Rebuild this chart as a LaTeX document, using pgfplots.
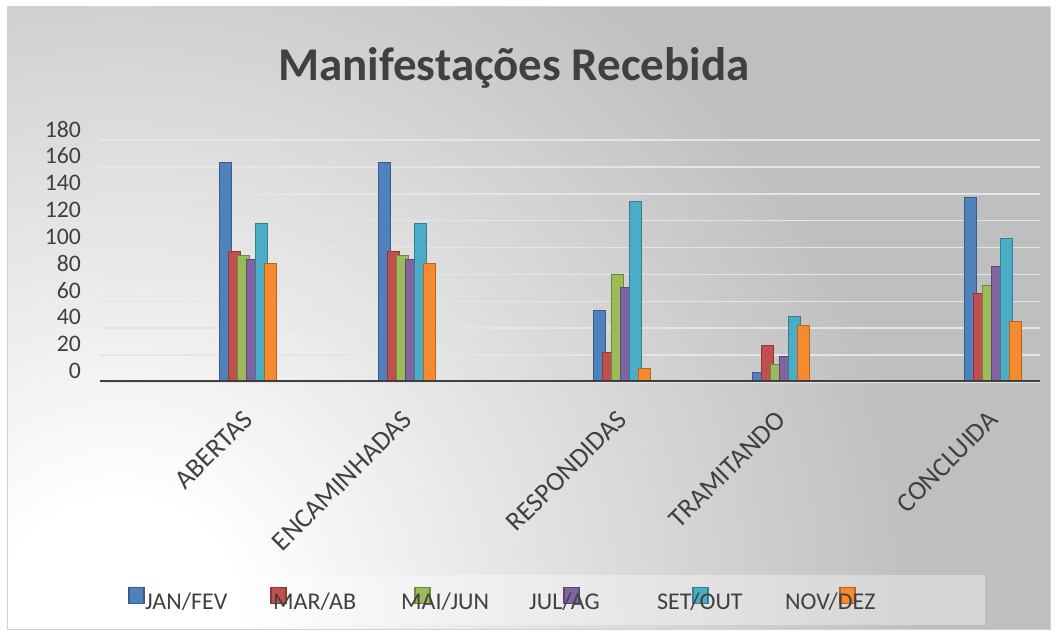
\documentclass[border=0pt]{standalone}
\usepackage{pgfplots}
\pgfplotsset{compat=1.18}
\usepackage{pgfplotstable}
\usepackage{fontspec}
\setmainfont{Carlito}
\definecolor{txt}{HTML}{404040}
\definecolor{bggray}{HTML}{BFBFBF}
\definecolor{cJAN}{HTML}{4F81BD}\definecolor{dJAN}{HTML}{385D8A}
\definecolor{cMAR}{HTML}{C0504D}\definecolor{dMAR}{HTML}{8C3836}
\definecolor{cMAI}{HTML}{9BBB59}\definecolor{dMAI}{HTML}{71893F}
\definecolor{cJUL}{HTML}{8064A2}\definecolor{dJUL}{HTML}{5C4776}
\definecolor{cSET}{HTML}{4BACC6}\definecolor{dSET}{HTML}{357D91}
\definecolor{cNOV}{HTML}{F68A2E}\definecolor{dNOV}{HTML}{B8651F}
\pgfdeclareradialshading{bgshade}{\pgfpoint{0bp}{0bp}}{color(0bp)=(white); color(3bp)=(white); color(20bp)=(bggray); color(50bp)=(bggray)}
\pgfplotsset{lgimg/.style n args={3}{legend image code/.code={\path[draw=none,fill=none] (0pt,-2pt) rectangle (0pt,14pt); \draw[draw=#1, fill=#2, line width=1.5pt, overlay] (#3,-2pt) rectangle ++(15pt,16pt);}}}
\pgfplotstableread{
x jan mar mai jul set nov
247.5 163 97 94 91 118 88
407 163 97 94 91 118 88
621.5 53 22 80 70 134 10
780.5 7 27 13 19 49 42
993 137 66 72 86 107 45
}\datatable
\begin{document}
\begin{tikzpicture}[x=1pt,y=1pt]
\useasboundingbox (0,0) rectangle (1063,637);
\fill[white] (0,0) rectangle (1063,637);
\begin{scope}
\clip (7,7) rectangle (1050,630);
\fill[bggray] (7,7) rectangle (1050,630);
\shade[shading=bgshade] (120,17) circle (1000pt);
\end{scope}
\draw[gray!35, line width=1pt] (7,7) rectangle (1050,630);
\fill[white, opacity=0.35] (100,12) rectangle (985,62);
\node[anchor=base, font=\fontsize{47}{50}\selectfont\bfseries, text=txt] at (514,556) {Manifestações Recebida};
\begin{axis}[
 at={(100pt,255pt)}, anchor=south west,
 scale only axis, width=940pt, height=242pt,
 xmin=100, xmax=1040, ymin=0, ymax=180,
 ybar=-3pt, bar width=12pt,
 xtick={247.5,407,621.5,780.5,993},
 xticklabels={ABERTAS,ENCAMINHADAS,RESPONDIDAS,TRAMITANDO,CONCLUIDA},
 ytick={0,20,...,180},
 major tick length=0pt,
 axis line style={draw=none},
 ymajorgrids, grid style={line width=1.5pt, color=gray!20},
 tick label style={text=txt},
 xticklabel style={font=\fontsize{27}{30}\selectfont, xshift=-6pt, yshift=-27pt, rotate=45, anchor=north east, inner sep=0pt},
 yticklabel style={font=\fontsize{23.7}{26}\selectfont, anchor=east, inner sep=0pt, xshift=-19pt, yshift=11pt},
 /pgf/number format/assume math mode=true,
 legend columns=6,
 legend cell align=left,
 legend style={at={(axis description cs:0.0479,-0.897)}, anchor=west, draw=none, fill=none, inner sep=0pt,
   /tikz/column sep=0pt, /tikz/row sep=0pt,
   nodes={inner sep=0pt, text width=128pt, align=left, text=txt, font=\fontsize{24}{26}\selectfont}},
]
\addplot[draw=dJAN, fill=cJAN, line width=1pt, lgimg={dJAN}{cJAN}{-16pt}] table[x=x,y=jan]{\datatable};
\addplot[draw=dMAR, fill=cMAR, line width=1pt, lgimg={dMAR}{cMAR}{-2pt}] table[x=x,y=mar]{\datatable};
\addplot[draw=dMAI, fill=cMAI, line width=1pt, lgimg={dMAI}{cMAI}{14pt}] table[x=x,y=mai]{\datatable};
\addplot[draw=dJUL, fill=cJUL, line width=1pt, lgimg={dJUL}{cJUL}{35pt}] table[x=x,y=jul]{\datatable};
\addplot[draw=dSET, fill=cSET, line width=1pt, lgimg={dSET}{cSET}{36pt}] table[x=x,y=set]{\datatable};
\addplot[draw=dNOV, fill=cNOV, line width=1pt, lgimg={dNOV}{cNOV}{55pt}] table[x=x,y=nov]{\datatable};
\legend{JAN/FEV,MAR/AB,MAI/JUN,JUL/AG,SET/OUT,NOV/DEZ}
\draw[line width=4pt, color=txt] (axis cs:100,0) -- (axis cs:1040,0);
\end{axis}
\end{tikzpicture}
\end{document}
